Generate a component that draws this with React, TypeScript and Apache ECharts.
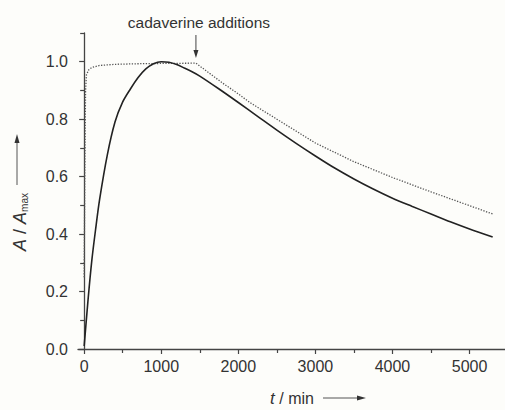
import React, { useEffect, useRef } from "react";
import * as echarts from "echarts";

// solid curve
const tSolid = [0, 50, 100, 150, 200, 300, 400, 500, 600, 700, 800, 900, 1000, 1100, 1200, 1300, 1400, 1500, 1750, 2000, 2250, 2500, 2750, 3000, 3250, 3500, 3750, 4000, 4250, 4500, 4750, 5000, 5300];
const vSolid = [0.01, 0.17, 0.31, 0.42, 0.52, 0.675, 0.79, 0.86, 0.905, 0.945, 0.975, 0.993, 1.0, 0.998, 0.99, 0.978, 0.965, 0.95, 0.905, 0.858, 0.81, 0.762, 0.716, 0.672, 0.63, 0.592, 0.557, 0.525, 0.497, 0.47, 0.443, 0.418, 0.39];
// dotted curve
const tDotted = [0, 8, 18, 30, 60, 100, 200, 400, 700, 1000, 1450, 1500, 1600, 1800, 2000, 2150, 2500, 3000, 3500, 4000, 4500, 5000, 5300];
const vDotted = [0.25, 0.6, 0.9, 0.955, 0.972, 0.98, 0.987, 0.991, 0.993, 0.994, 0.995, 0.985, 0.965, 0.925, 0.888, 0.858, 0.8, 0.717, 0.652, 0.597, 0.547, 0.499, 0.47];

const xMajor = [0, 1000, 2000, 3000, 4000, 5000];
const xMinor = [500, 1500, 2500, 3500, 4500];
const yMajor = [0, 0.2, 0.4, 0.6, 0.8, 1.0];
const yMinor = [0.1, 0.3, 0.5, 0.7, 0.9, 1.1];
const additionTime = 1450;
const additionLabel = "cadaverine additions";

const FONT = "'Liberation Sans', Arial, sans-serif";
const INK = "#333";

export default function App() {
  const ref = useRef<HTMLDivElement>(null);
  useEffect(() => {
    document.body.style.margin = "0";
    const chart = echarts.init(ref.current!, null, { renderer: "svg" });
    const xBase = { type: "value", min: -80, max: 5460, splitLine: { show: false } };
    const yBase = { type: "value", min: 0, max: 1.1, splitLine: { show: false } };
    const axisLine = { show: true, lineStyle: { color: "#444", width: 1.3 } };
    chart.setOption({
      animation: false,
      backgroundColor: "#fdfdfa",
      grid: { left: 78, right: 0, top: 33, bottom: 61, containLabel: false },
      xAxis: [
        {
          ...xBase,
          axisLine,
          axisTick: { show: true, length: 5, customValues: xMajor, lineStyle: { color: "#444", width: 1.2 } },
          axisLabel: {
            customValues: xMajor,
            fontSize: 16,
            color: INK,
            fontFamily: FONT,
            margin: 9,
            formatter: (v: number) => String(v),
          },
        },
        {
          ...xBase,
          position: "bottom",
          axisLine: { show: false },
          axisTick: { show: true, length: 4, customValues: xMinor, lineStyle: { color: "#444", width: 1.2 } },
          axisLabel: { show: false },
        },
      ],
      yAxis: [
        {
          ...yBase,
          axisLine,
          axisTick: { show: true, length: 5, customValues: yMajor, lineStyle: { color: "#444", width: 1.2 } },
          axisLabel: {
            customValues: yMajor,
            fontSize: 16,
            color: INK,
            fontFamily: FONT,
            margin: 10,
            formatter: (v: number) => v.toFixed(1),
          },
        },
        {
          ...yBase,
          position: "left",
          axisLine: { show: false },
          axisTick: { show: true, length: 4, customValues: yMinor, lineStyle: { color: "#444", width: 1.2 } },
          axisLabel: { show: false },
        },
      ],
      series: [
        {
          type: "line",
          data: tDotted.map((t, i) => [t, vDotted[i]]),
          showSymbol: false,
          smooth: false,
          lineStyle: { color: "#555", width: 1.3, type: [1.3, 1.5] },
        },
        {
          type: "line",
          data: tSolid.map((t, i) => [t, vSolid[i]]),
          showSymbol: false,
          smooth: 0.3,
          lineStyle: { color: "#222", width: 1.6 },
        },
      ],
    });
    const ax = chart.convertToPixel({ xAxisIndex: 0 }, additionTime) as number;
    chart.setOption({
      graphic: [
        {
          type: "text",
          x: ax + 3,
          y: 22,
          style: { text: additionLabel, font: `15.5px ${FONT}`, fill: INK, align: "center", verticalAlign: "middle" },
        },
        { type: "line", shape: { x1: ax, y1: 35, x2: ax, y2: 52 }, style: { stroke: "#444", lineWidth: 1 } },
        { type: "polygon", shape: { points: [[ax, 58], [ax - 2.5, 50], [ax + 2.5, 50]] }, style: { fill: "#333" } },
        {
          type: "text",
          x: 20,
          y: 222,
          rotation: Math.PI / 2,
          style: {
            text: "{i|A} / {i|A}{s|max}",
            align: "center",
            verticalAlign: "middle",
            fill: INK,
            rich: {
              i: { font: `italic 18px ${FONT}`, fill: INK },
              s: { font: `10px ${FONT}`, fill: INK, verticalAlign: "bottom", padding: [6, 0, 0, 0] },
            },
            font: `18px ${FONT}`,
          },
        },
        { type: "line", shape: { x1: 17, y1: 185, x2: 17, y2: 142 }, style: { stroke: "#555", lineWidth: 1 } },
        { type: "polygon", shape: { points: [[17, 134], [14.5, 143], [19.5, 143]] }, style: { fill: "#333" } },
        {
          type: "text",
          x: 292,
          y: 398,
          style: {
            text: "{i|t} / min",
            align: "center",
            verticalAlign: "middle",
            fill: INK,
            font: `16px ${FONT}`,
            rich: { i: { font: `italic 17px ${FONT}`, fill: INK } },
          },
        },
        { type: "line", shape: { x1: 323, y1: 398, x2: 358, y2: 398 }, style: { stroke: "#555", lineWidth: 1 } },
        { type: "polygon", shape: { points: [[366, 398], [357, 395.5], [357, 400.5]] }, style: { fill: "#333" } },
      ],
    });
    return () => chart.dispose();
  }, []);
  return <div ref={ref} style={{ width: 505, height: 410 }} />;
}
